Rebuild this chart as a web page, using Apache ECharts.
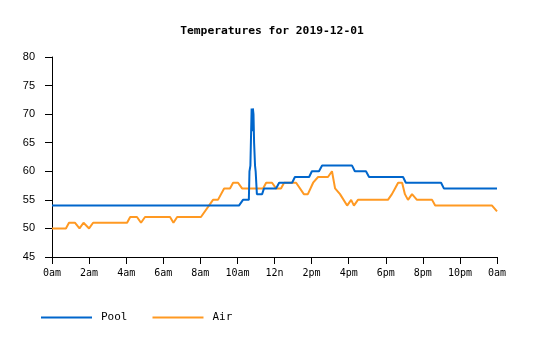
<!DOCTYPE html>
<html>
<head>
<meta charset="utf-8">
<title>Temperatures for 2019-12-01</title>
<script src="https://cdn.jsdelivr.net/npm/echarts@6/dist/echarts.min.js"></script>
<style>
  html, body { margin: 0; padding: 0; background: #fff; }
  #chart { width: 535px; height: 340px; }
</style>
</head>
<body>
<div id="chart"></div>
<script>
// Readings logged on change, times as HH:MM
const poolTimes = ['00:00','10:05','10:18','10:28','10:37','10:39','10:42','10:44','10:46','10:48','10:50','10:52','10:54','10:57','10:59','11:03','11:20','11:26','12:05','12:15','12:57','13:06','13:52','14:01','14:24','14:34','16:11','16:20','16:56','17:06','18:56','19:05','20:59','21:08','24:00'];
const poolTemps = [54,54,55,55,55,60,61,66,71,67,71,70,65,61,60,56,56,57,57,58,58,59,59,60,60,61,61,60,60,59,59,58,58,57,57];

const airTimes = ['00:00','00:45','00:55','01:14','01:29','01:42','02:00','02:13','04:03','04:13','04:35','04:48','05:01','06:22','06:33','06:45','08:02','08:41','08:57','09:17','09:36','09:46','10:02','10:15','11:23','11:33','11:52','12:05','12:21','12:31','13:10','13:35','13:48','14:05','14:21','14:53','15:06','15:16','15:32','15:55','16:08','16:17','16:30','18:07','18:20','18:30','18:40','18:53','19:02','19:12','19:25','19:41','20:30','20:40','23:44','24:00'];
const airTemps = [50,50,51,51,50,51,50,51,51,52,52,51,52,52,51,52,52,55,55,57,57,58,58,57,57,58,58,57,57,58,58,56,56,58,59,59,60,57,56,54,55,54,55,55,56,57,58,58,56,55,56,55,55,54,54,53];

const hourLabels = ['0am','2am','4am','6am','8am','10am','12n','2pm','4pm','6pm','8pm','10pm','0am'];

const FONT_MONO = '"DejaVu Sans Mono", "Liberation Mono", monospace';
const FONT_SANS = '"Liberation Sans", Arial, sans-serif';

function toHours(t) {
  const [h, m] = t.split(':').map(Number);
  return h + m / 60;
}
function pairs(times, temps) {
  return times.map((t, i) => [toHours(t), temps[i]]);
}

const chart = echarts.init(document.getElementById('chart'), null, { renderer: 'canvas' });

chart.setOption({
  animation: false,
  backgroundColor: '#ffffff',
  title: {
    text: 'Temperatures for 2019-12-01',
    left: 272,
    textAlign: 'center',
    top: 26,
    padding: 0,
    textStyle: { fontFamily: FONT_MONO, fontSize: 11.3, fontWeight: 'bold', color: '#000' }
  },
  legend: {
    left: 41,
    top: 312,
    padding: 0,
    icon: 'rect',
    itemWidth: 51,
    itemHeight: 2,
    itemGap: 25,
    textStyle: { fontFamily: FONT_MONO, fontSize: 11, color: '#000', padding: [0, 0, 0, 4] },
    data: ['Pool', 'Air']
  },
  grid: { left: 52, right: 38, top: 57, bottom: 83 },
  xAxis: {
    type: 'value',
    min: 0,
    max: 24,
    interval: 2,
    splitLine: { show: false },
    axisLine: { show: true, lineStyle: { color: '#000', width: 1 } },
    axisTick: { show: true, length: 7, lineStyle: { color: '#000' } },
    axisLabel: {
      margin: 11,
      fontFamily: FONT_MONO,
      fontSize: 10,
      color: '#000',
      formatter: v => hourLabels[Math.round(v / 2)]
    }
  },
  yAxis: {
    type: 'value',
    min: 45,
    max: 80,
    interval: 5,
    splitLine: { show: false },
    axisLine: { show: true, lineStyle: { color: '#000', width: 1 } },
    axisTick: { show: true, length: 7, lineStyle: { color: '#000' } },
    axisLabel: { margin: 17, fontFamily: FONT_SANS, fontSize: 11, color: '#000' }
  },
  series: [
    {
      name: 'Pool',
      type: 'line',
      data: pairs(poolTimes, poolTemps),
      showSymbol: false,
      symbol: 'none',
      color: '#0066cc',
      lineStyle: { color: '#0066cc', width: 2 },
      z: 3
    },
    {
      name: 'Air',
      type: 'line',
      data: pairs(airTimes, airTemps),
      showSymbol: false,
      symbol: 'none',
      color: '#ff9922',
      lineStyle: { color: '#ff9922', width: 2 },
      z: 2
    }
  ]
});
</script>
</body>
</html>
